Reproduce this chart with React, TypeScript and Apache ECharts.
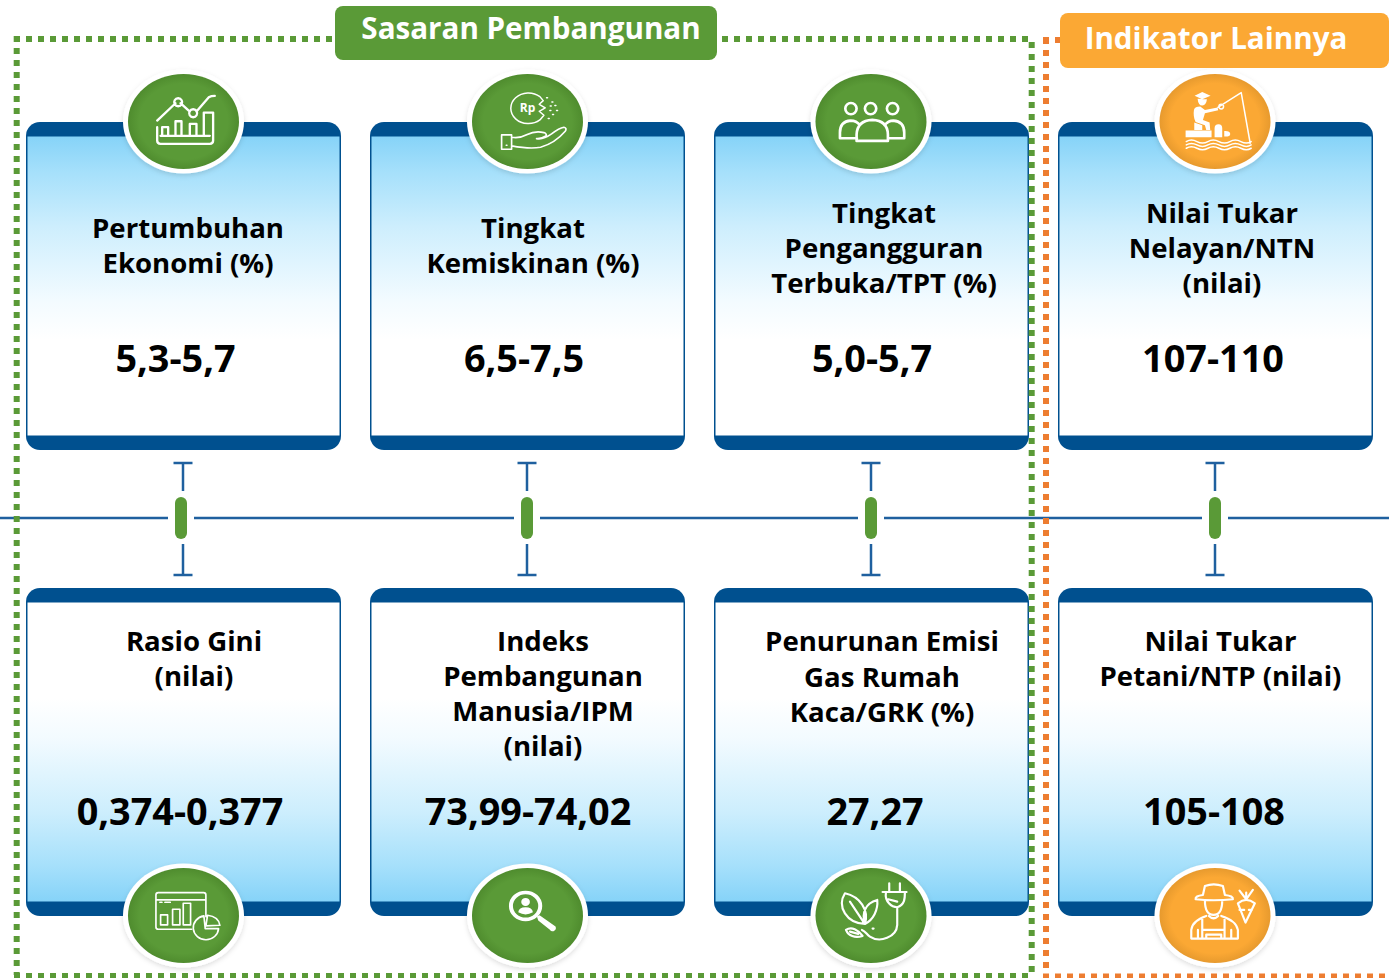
import React, { useEffect, useRef } from "react";
import * as echarts from "echarts";

const W = 1389;
const H = 978;

// ---- content ----
const topTitles = [
  "Pertumbuhan\nEkonomi (%)",
  "Tingkat\nKemiskinan (%)",
  "Tingkat\nPengangguran\nTerbuka/TPT (%)",
  "Nilai Tukar\nNelayan/NTN\n(nilai)",
];
const topValues = ["5,3-5,7", "6,5-7,5", "5,0-5,7", "107-110"];
const bottomTitles = [
  "Rasio Gini\n(nilai)",
  "Indeks\nPembangunan\nManusia/IPM\n(nilai)",
  "Penurunan Emisi\nGas Rumah\nKaca/GRK (%)",
  "Nilai Tukar\nPetani/NTP (nilai)",
];
const bottomValues = ["0,374-0,377", "73,99-74,02", "27,27", "105-108"];
const headerLeft = "Sasaran Pembangunan";
const headerRight = "Indikator Lainnya";

// ---- layout ----
const cardX = [26, 370, 714, 1058];
const badgeX = [183.5, 527.5, 871, 1215];
const pillX = [181, 527, 871, 1215];
const stemX = [183, 527, 871, 1215];
const topTitleX = [188, 533, 884, 1222];
const topTitleY = [244.5, 244.5, 247, 247];
const topValueX = [175.5, 524, 872, 1213];
const botTitleX = [194, 543, 882, 1220.5];
const botTitleY = [657.5, 692.5, 675.5, 657.5];
const botValueX = [180, 528, 875, 1214];

const GREEN = "#5a9a37";
const ORANGE = "#fba834";
const DOT_ORANGE = "#ed7d31";
const NAVY = "#00508f";
const LINE = "#1f609f";
const FONT = '"Open Sans", "Noto Sans", sans-serif';
const TITLE_SIZE = 27.6;
const VALUE_SIZE = 37.8;
const HEADER_SIZE = 29.6;

// ---- icon outlines (drawn at 3x, offset in the icon() calls below) ----
const P_GROWTH =
  "M472 362L527 310M542 310L570 335M590 335L627 292Q634 288 645 288M535 295A12 12 0 1 0 535.1 295ZM580 328A12 12 0 1 0 580.1 328Z" +
  "M472 382V422Q472 432 482 432H630Q640 432 640 422V338H612V408M482 408H630M487 408V382H505V408M527 408V364H545V408M570 408V372H590V408";
const P_COIN =
  "M300 110A53 46 0 1 0 300 180L312 166L298 154L316 144L298 133L310 122Z" +
  "M320 113h3M336 126h3M345 137h3M331 138h3M350 152h3M330 152h3M338 164h3M325 176h3";
const P_HAND =
  "M185 225H215V268H185ZM215 232Q240 236 262 224Q285 212 312 218Q322 222 318 228Q300 238 290 236Q310 240 335 222Q358 204 372 202Q382 204 376 214Q345 250 302 262Q270 268 215 258M199 256h2";
const P_PEOPLE =
  "M200 146A17 17 0 1 0 166 146A17 17 0 1 0 200 146ZM259 146A17 17 0 1 0 225 146A17 17 0 1 0 259 146ZM325 146A17 17 0 1 0 291 146A17 17 0 1 0 325 146Z" +
  "M201 235H150V218Q150 184 182 182Q200 182 210 196M295 235H343V218Q343 184 310 182Q295 182 284 196" +
  "M200 243V224Q202 182 247 180Q293 182 294 224V243Z";
const P_FISH_LINE =
  "M1285 142L1355 98L1382 250M1302 140A7 7 0 1 0 1288 140A7 7 0 1 0 1302 140Z" +
  "M1190 245Q1205 236 1222 245T1255 245T1288 245T1321 245T1354 245T1385 245" +
  "M1190 255Q1205 246 1222 255T1255 255T1288 255T1321 255T1354 255T1385 255" +
  "M1190 265Q1205 256 1222 265T1255 265T1288 265T1321 265T1354 265T1385 265";
const P_FISH_FILL =
  "M1215 107L1238 96L1263 107L1238 118ZM1224 116L1252 118Q1250 136 1238 137Q1226 136 1224 116Z" +
  "M1213 150Q1216 140 1232 140L1246 150L1284 143L1286 151L1246 160L1240 180L1260 188L1262 210H1250L1246 196L1218 186Q1210 170 1213 150Z" +
  "M1214 188L1238 196V210H1214ZM1188 212H1266V232H1188ZM1275 205Q1275 193 1287 193Q1298 193 1298 205V232H1275ZM1304 213Q1322 212 1322 222Q1322 231 1304 230Z";
const P_GINI =
  "M275 238H175Q168 238 168 231V135Q168 128 175 128H311Q318 128 318 135V200M168 150H318M180 157h6M195 157h16" +
  "M182 195H203V225H182ZM218 178H240V225H218ZM250 160H272V225H250Z" +
  "M312 198A38 36 0 1 0 356 236L316 236ZM323 196Q356 200 360 226L318 228Z";
const P_SEARCH_RING = "M1328 168A50 46 0 1 0 1228 168A50 46 0 1 0 1328 168ZM1316 168A38 35 0 1 1 1240 168A38 35 0 1 1 1316 168Z";
const P_SEARCH_FILL =
  "M1291 156A13 12 0 1 0 1265 156A13 12 0 1 0 1291 156ZM1256 187Q1258 172 1278 172Q1298 172 1300 187Q1278 200 1256 187Z" +
  "M1312 200L1320 196L1368 230Q1372 240 1362 244Q1352 244 1352 240L1316 212Z";
const P_PLANT =
  "M165 130C140 170 170 220 225 222C238 180 210 140 165 130ZM180 155L222 218M262 150C225 160 215 190 225 222C250 210 265 180 262 150Z" +
  "M168 240C185 228 205 240 218 258C195 265 175 258 168 240ZM180 245L205 252" +
  "M322 175V225C320 262 270 280 240 260C230 254 228 245 216 240M248 236h3" +
  "M298 100V125M330 100V125M278 126H350M288 128C284 155 305 172 322 172C345 165 345 145 345 128M295 148L322 155";
const P_FARMER =
  "M1218 148Q1216 138 1240 135L1246 108Q1272 98 1300 108L1306 135Q1332 138 1330 148Q1272 154 1218 148Z" +
  "M1246 152Q1246 195 1272 195Q1298 195 1298 152" +
  "M1250 198Q1208 212 1205 240V266H1345V240Q1340 212 1295 198M1258 198Q1272 212 1286 198" +
  "M1238 207V240H1305V207M1238 240V266M1305 240V266M1250 266V254H1295V266M1225 240V266M1325 240V266" +
  "M1345 160Q1370 140 1396 160L1368 218ZM1370 148L1350 122M1370 148L1390 120M1370 148V128M1350 180H1364M1378 180H1387";

const shapes: Record<string, string> = {
  growth: P_GROWTH, coin: P_COIN, hand: P_HAND, people: P_PEOPLE,
  fishLine: P_FISH_LINE, fishFill: P_FISH_FILL, gini: P_GINI,
  searchRing: P_SEARCH_RING, searchFill: P_SEARCH_FILL, plant: P_PLANT, farmer: P_FARMER,
};
Object.keys(shapes).forEach((k) => {
  echarts.graphic.registerShape(k, echarts.graphic.extendPath(shapes[k], {}) as any);
});

const icon = (type: string, ox: number, oy: number, fill = false, lw = 6): any => ({
  type,
  x: ox,
  y: oy,
  scaleX: 1 / 3,
  scaleY: 1 / 3,
  z: 20,
  style: fill
    ? { fill: "#fff", stroke: "none" }
    : { fill: "none", stroke: "#fff", lineWidth: lw, lineCap: "round", lineJoin: "round" },
});

const dotted = (points: number[][], color: string): any => ({
  type: "polyline",
  z: 8,
  shape: { points },
  style: { fill: "none", stroke: color, lineWidth: 6, lineDash: [6, 6], lineCap: "butt" },
});

const segment = (x1: number, y1: number, x2: number, y2: number, w = 2.5, z = 5): any => ({
  type: "line",
  z,
  shape: { x1, y1, x2, y2 },
  style: { stroke: LINE, lineWidth: w },
});

const TOP_STOPS = [
  { offset: 0, color: "#86d3f8" },
  { offset: 0.12, color: "#a6e0fb" },
  { offset: 0.3, color: "#cdeefd" },
  { offset: 0.55, color: "#f3fbff" },
  { offset: 0.68, color: "#ffffff" },
  { offset: 1, color: "#ffffff" },
];
const BOTTOM_STOPS = TOP_STOPS.map((s) => ({ offset: 1 - s.offset, color: s.color })).reverse();

const card = (x: number, y: number, flip: boolean): any[] => [
  { type: "rect", z: 2, shape: { x, y, width: 315, height: 328, r: 14 }, style: { fill: NAVY } },
  {
    type: "rect",
    z: 3,
    shape: { x: x + 1.5, y: y + 14.5, width: 312, height: 299 },
    style: { fill: new echarts.graphic.LinearGradient(0, 0, 0, 1, flip ? BOTTOM_STOPS : TOP_STOPS) },
  },
];

const badge = (cx: number, cy: number, color: string, edge: string): any[] => [
  {
    type: "ellipse",
    z: 10,
    shape: { cx, cy, rx: 60.5, ry: 52 },
    style: { fill: "#fff", shadowBlur: 5, shadowColor: "rgba(0,0,0,0.13)", shadowOffsetY: 2 },
  },
  {
    type: "ellipse",
    z: 11,
    shape: { cx, cy, rx: 55.5, ry: 47.5 },
    style: {
      fill: new echarts.graphic.RadialGradient(0.5, 0.5, 0.5, [
        { offset: 0, color },
        { offset: 0.8, color },
        { offset: 1, color: edge },
      ]),
    },
  },
];

const textEl = (text: string, x: number, y: number, size: number, fill = "#000", lh?: number): any => ({
  type: "text",
  z: 25,
  x,
  y,
  style: {
    text,
    fill,
    font: `700 ${size}px ${FONT}`,
    align: "center",
    verticalAlign: "middle",
    lineHeight: lh ?? Math.round(size * 1.3),
  },
});

function buildElements(): any[] {
  const els: any[] = [];
  cardX.forEach((x, i) => {
    els.push(...card(x, 122, false), ...card(x, 588, true));
    els.push(textEl(topTitles[i], topTitleX[i], topTitleY[i], TITLE_SIZE, "#000", 35));
    els.push(textEl(topValues[i], topValueX[i], 357, VALUE_SIZE));
    els.push(textEl(bottomTitles[i], botTitleX[i], botTitleY[i], TITLE_SIZE, "#000", 35.3));
    els.push(textEl(bottomValues[i], botValueX[i], 810, VALUE_SIZE));
    const orange = i === 3;
    els.push(...badge(badgeX[i], 121.5, orange ? ORANGE : GREEN, orange ? "#e79a2e" : "#4f8c2e"));
    els.push(...badge(badgeX[i], 915.5, orange ? ORANGE : GREEN, orange ? "#e79a2e" : "#4f8c2e"));
  });

  // timeline and connectors
  els.push(segment(0, 518, W, 518));
  pillX.forEach((x, i) => {
    const vx = stemX[i];
    els.push(segment(vx, 463, vx, 491));
    els.push(segment(vx - 9.5, 463, vx + 9.5, 463));
    els.push(segment(vx, 544, vx, 575));
    els.push(segment(vx - 9.5, 575, vx + 9.5, 575));
    els.push({ type: "rect", z: 6, shape: { x: x - 13, y: 492, width: 26, height: 52, r: 8 }, style: { fill: "#fff" } });
    els.push({ type: "rect", z: 7, shape: { x: x - 6, y: 497, width: 12, height: 42, r: 6 }, style: { fill: GREEN } });
  });

  // dotted frames
  els.push(dotted([[14, 39], [332, 39]], GREEN));
  els.push(dotted([[722, 39], [1030, 39]], GREEN));
  els.push(dotted([[16.7, 36], [16.7, 975]], GREEN));
  els.push(dotted([[1031.7, 42], [1031.7, 972]], GREEN));
  els.push(dotted([[14, 976], [1034, 976]], GREEN));
  els.push(dotted([[1043, 40], [1061, 40]], DOT_ORANGE));
  els.push(dotted([[1046, 38], [1046, 970]], DOT_ORANGE));
  els.push(dotted([[1043, 976.5], [W, 976.5]], DOT_ORANGE));

  // headers
  els.push({ type: "rect", z: 12, shape: { x: 335, y: 6, width: 382, height: 54, r: 8 }, style: { fill: GREEN } });
  els.push(textEl(headerLeft, 531, 27, HEADER_SIZE, "#fff"));
  els.push({ type: "rect", z: 12, shape: { x: 1060, y: 13, width: 329, height: 55, r: 8 }, style: { fill: ORANGE } });
  els.push(textEl(headerRight, 1216, 37, HEADER_SIZE, "#fff"));

  // icons, top row
  els.push(icon("growth", 0, 0, false, 7));
  els.push(icon("coin", 440, 60, false, 4.5));
  els.push(textEl("Rp", 527.5, 107, 12, "#fff"));
  els.push(icon("hand", 440, 60, false, 5));
  els.push(icon("people", 790, 60, false, 8));
  els.push(icon("fishLine", 790, 60, false, 4.5));
  els.push(icon("fishFill", 790, 60, true));
  // icons, bottom row
  els.push(icon("gini", 100, 850, false, 5));
  els.push(icon("searchRing", 100, 850, true));
  els.push(icon("searchFill", 100, 850, true));
  els.push(icon("plant", 790, 850, false, 6.5));
  els.push(icon("farmer", 790, 850, false, 6.5));
  return els;
}

export default function App() {
  const ref = useRef<HTMLDivElement>(null);
  useEffect(() => {
    if (!ref.current) return;
    const chart = echarts.init(ref.current, undefined, { renderer: "svg" });
    chart.setOption({
      animation: false,
      backgroundColor: "#ffffff",
      graphic: { elements: buildElements() },
    });
    return () => chart.dispose();
  }, []);
  return <div ref={ref} style={{ position: "absolute", left: 0, top: 0, width: W, height: H }} />;
}
